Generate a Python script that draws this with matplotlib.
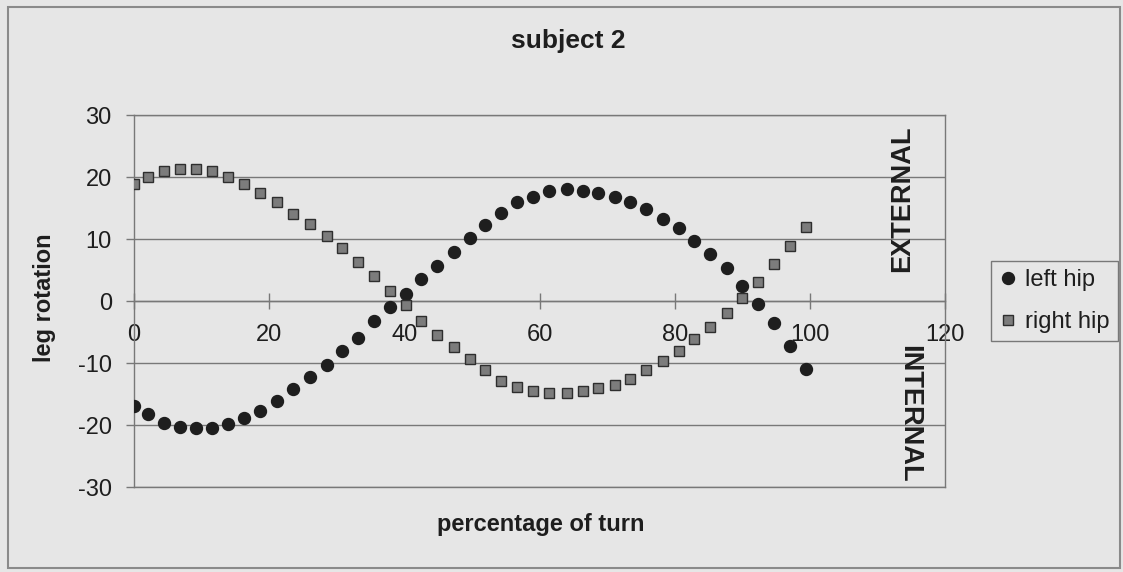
import matplotlib
matplotlib.use('Agg')
import matplotlib.pyplot as plt
from matplotlib.patches import Rectangle

# percentage of turn for each sample
pct = [0, 2.1, 4.4, 6.8, 9.2, 11.6, 13.9, 16.3, 18.7, 21.2,
       23.6, 26.0, 28.5, 30.8, 33.1, 35.5, 37.9, 40.2, 42.5, 44.9,
       47.3, 49.7, 52.0, 54.3, 56.7, 59.0, 61.4, 64.0, 66.4, 68.7,
       71.1, 73.4, 75.8, 78.2, 80.6, 82.9, 85.3, 87.7, 89.9, 92.3,
       94.7, 97.1, 99.5]

left_hip = [-17.0, -18.3, -19.6, -20.3, -20.5, -20.5, -19.8, -18.9, -17.7, -16.1,
            -14.2, -12.3, -10.3, -8.1, -5.9, -3.2, -1.0, 1.2, 3.5, 5.7,
            7.9, 10.1, 12.3, 14.2, 15.9, 16.8, 17.8, 18.0, 17.7, 17.4,
            16.7, 15.9, 14.8, 13.2, 11.7, 9.7, 7.6, 5.4, 2.4, -0.5,
            -3.6, -7.2, -11.0]

right_hip = [18.8, 20.0, 21.0, 21.3, 21.3, 21.0, 20.0, 18.8, 17.5, 15.9,
             14.0, 12.4, 10.5, 8.5, 6.3, 4.0, 1.6, -0.6, -3.3, -5.5,
             -7.4, -9.4, -11.2, -12.9, -13.8, -14.5, -14.8, -14.8, -14.5, -14.1,
             -13.5, -12.6, -11.2, -9.7, -8.1, -6.2, -4.2, -2.0, 0.5, 3.1,
             5.9, 8.8, 11.9]

x_ticks = [0, 20, 40, 60, 80, 100, 120]
y_ticks = [-30, -20, -10, 0, 10, 20, 30]

W, H = 1123, 572
bg = '#e6e6e6'
grid_col = '#787878'
ink = '#1e1e1e'

plt.rcParams['font.family'] = ['Liberation Sans', 'DejaVu Sans']
plt.rcParams['axes.unicode_minus'] = False  # plain hyphen like the original

fig = plt.figure(figsize=(W / 100, H / 100), dpi=100, facecolor=bg)
# outer chart border
fig.patches.append(Rectangle((8 / W, 4 / H), 1112 / W, 561 / H, transform=fig.transFigure,
                             fill=False, edgecolor='#8a8a8a', lw=1.5))

ax = fig.add_axes([134 / W, 85 / H, 811 / W, 372 / H])
ax.set_facecolor(bg)
ax.set_axisbelow(True)

ax.plot(pct, left_hip, 'o', ms=8.6, color=ink, mec=ink, label='left hip', zorder=3)
ax.plot(pct, right_hip, 's', ms=7.6, color='#7c7c7c', mec='#2e2e2e', mew=1, label='right hip', zorder=3)

ax.set_xlim(0, 120)
ax.set_ylim(-30, 30)
ax.set_xticks(x_ticks)
ax.set_yticks(y_ticks)
ax.yaxis.grid(True, color=grid_col, lw=1)
# bottom edge of the plot area (the bottom spine is moved to y=0)
ax.axhline(-30, color=grid_col, lw=1, clip_on=False, zorder=1)

# x axis sits on y = 0 like the excel chart
ax.spines['bottom'].set_position(('data', 0))
for s in ['bottom', 'left', 'right', 'top']:
    ax.spines[s].set_color(grid_col)
    ax.spines[s].set_linewidth(1)

ax.tick_params(axis='x', direction='inout', length=11, width=1, color=grid_col,
               pad=11, labelsize=17, labelcolor=ink)
ax.tick_params(axis='y', direction='out', length=6, width=1, color=grid_col,
               pad=10, labelsize=17, labelcolor=ink)

fig.text(568 / W, 1 - 41 / H, 'subject 2', ha='center', va='center',
         fontsize=19, fontweight='bold', color=ink)
fig.text(541 / W, 1 - 525 / H, 'percentage of turn', ha='center', va='center',
         fontsize=17, fontweight='bold', color=ink)
fig.text(45 / W, 1 - 298 / H, 'leg rotation', ha='center', va='center', rotation=90,
         fontsize=17, fontweight='bold', color=ink)
fig.text(902 / W, 1 - 199 / H, 'EXTERNAL', ha='center', va='center', rotation=90,
         fontsize=19.5, fontweight='bold', color=ink)
fig.text(909 / W, 1 - 414 / H, 'INTERNAL', ha='center', va='center', rotation=-90,
         fontsize=19.5, fontweight='bold', color=ink)

leg = ax.legend(loc='center left', bbox_to_anchor=(991 / W, 1 - 301 / H),
                bbox_transform=fig.transFigure, fontsize=17, frameon=True,
                fancybox=False, facecolor=bg, edgecolor=grid_col, framealpha=1,
                handlelength=0.7, handletextpad=0.4, borderpad=0.35,
                labelspacing=0.85, borderaxespad=0)
leg.get_frame().set_linewidth(1)
for t in leg.get_texts():
    t.set_color(ink)

fig.savefig('out.png', dpi=100, facecolor=bg)
